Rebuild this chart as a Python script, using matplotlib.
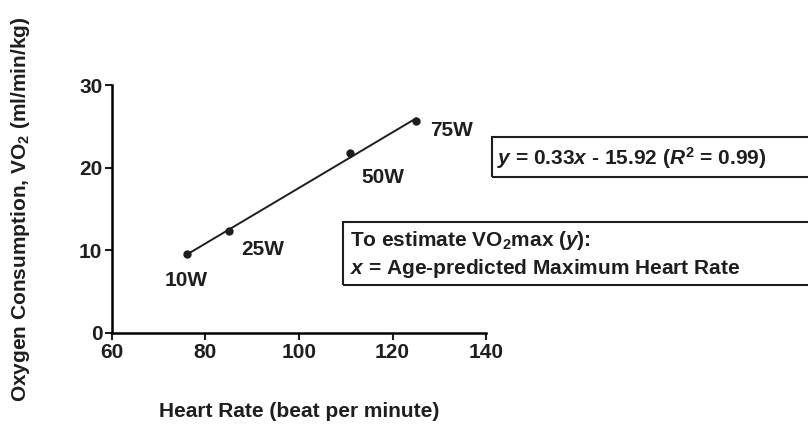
import numpy as np
import matplotlib
matplotlib.use("Agg")
import matplotlib.pyplot as plt
from matplotlib.patches import Rectangle

plt.rcParams['font.family'] = ['Liberation Sans', 'DejaVu Sans']
plt.rcParams['font.weight'] = 'bold'
plt.rcParams['mathtext.fontset'] = 'custom'
plt.rcParams['mathtext.rm'] = 'Liberation Sans:bold'
plt.rcParams['mathtext.it'] = 'Liberation Sans:bold:italic'

# data
heart_rate = [76, 85, 111, 125]
vo2 = [9.5, 12.3, 21.8, 25.6]
workloads = ["10W", "25W", "50W", "75W"]
x_ticks = [60, 80, 100, 120, 140]
y_ticks = [0, 10, 20, 30]

FS = 15
INK = '#1e1e1e'

fig = plt.figure(figsize=(8.08, 4.30), dpi=100)
ax = fig.add_axes([0.1386, 0.2256, 0.4629, 0.5767])

# regression line through the measured range
xs = np.array([min(heart_rate), max(heart_rate)])
coef = np.polyfit(heart_rate, vo2, 1)
ax.plot(xs, np.polyval(coef, xs), color=INK, linewidth=1.4)
ax.plot(heart_rate, vo2, 'o', color=INK, markersize=5)

# point labels (offsets in pixels)
offsets = [(-22, -26), (12, -18), (11, -25), (14, -9)]
for hr, v, lab, (dx, dy) in zip(heart_rate, vo2, workloads, offsets):
    ax.annotate(lab, (hr, v), xytext=(dx, dy), textcoords='offset pixels',
                fontsize=FS, fontweight='bold', color=INK, va='center', ha='left')

ax.set_xlim(60, 140)
ax.set_ylim(0, 30)
ax.set_xticks(x_ticks)
ax.set_yticks(y_ticks)
ax.spines['top'].set_visible(False)
ax.spines['right'].set_visible(False)
ax.spines['left'].set_linewidth(1.8)
ax.spines['bottom'].set_linewidth(1.8)
ax.tick_params(width=1.5, length=5, labelsize=FS, pad=2, colors=INK)
for lab in ax.get_xticklabels() + ax.get_yticklabels():
    lab.set_fontweight('bold')

ax.set_xlabel("Heart Rate (beat per minute)", fontsize=FS, fontweight='bold', color=INK)
ax.set_ylabel("Oxygen Consumption, VO$_2$ (ml/min/kg)", fontsize=FS, fontweight='bold', color=INK)
ax.xaxis.set_label_coords(0.5, -0.28)
ax.yaxis.set_label_coords(-0.215, 0.5)

# equation box
fig.patches.append(Rectangle((492 / 808, 1 - 177 / 430), 330 / 808, 40 / 430,
                             transform=fig.transFigure, fill=False, edgecolor=INK, linewidth=1.5))
fig.text(497 / 808, 1 - 158 / 430, r"$y$ = 0.33$x$ - 15.92 ($R^2$ = 0.99)",
         fontsize=FS, fontweight='bold', va='center', ha='left', color=INK)

# note box
fig.patches.append(Rectangle((343 / 808, 1 - 285 / 430), 480 / 808, 63 / 430,
                             transform=fig.transFigure, fill=False, edgecolor=INK, linewidth=1.5))
fig.text(350 / 808, 1 - 240 / 430, r"To estimate VO$_2$max ($y$):",
         fontsize=FS, fontweight='bold', va='center', ha='left', color=INK)
fig.text(350 / 808, 1 - 268 / 430, r"$x$ = Age-predicted Maximum Heart Rate",
         fontsize=FS, fontweight='bold', va='center', ha='left', color=INK)

fig.savefig("out.png", dpi=100)
